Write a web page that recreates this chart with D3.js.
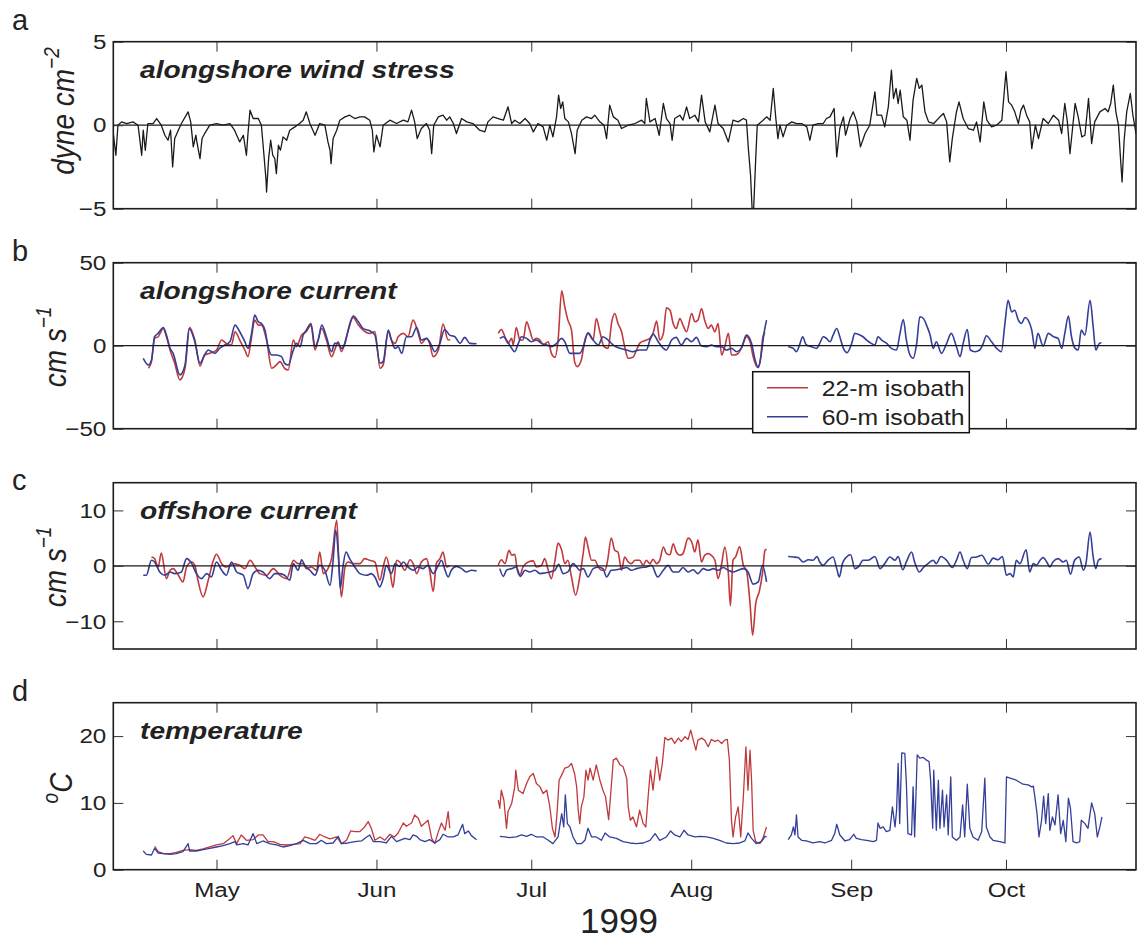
<!DOCTYPE html>
<html>
<head>
<meta charset="utf-8">
<script src="https://cdn.jsdelivr.net/npm/d3@7"></script>
<style>
body { margin: 0; background: #fff; }
svg { display: block; }
text { font-family: "Liberation Sans", Arial, Helvetica, sans-serif; fill: #222; }
</style>
</head>
<body>
<div id="figure"></div>
<script>
// all series: [day of year 1999, value]

// a - alongshore wind stress (dyne cm-2)
const windStress = [[101.0,-0.5],[101.5,-1.8],[101.9,0.0],[102.6,0.2],[103.6,0.1],[104.8,0.2],[105.8,0.0],[106.5,-1.8],[106.8,-0.3],[107.2,-1.5],[107.7,0.1],[108.7,0.1],[109.4,0.4],[110.3,0.0],[111.0,-0.6],[111.6,-0.9],[112.1,-0.3],[112.5,-2.5],[112.9,-0.8],[113.6,-0.3],[114.2,0.1],[115.5,0.8],[116.0,0.2],[116.5,-1.3],[117.0,-0.6],[117.2,-1.0],[117.8,-2.0],[118.2,-0.8],[118.7,-0.5],[119.7,0.0],[121.0,0.1],[122.3,0.0],[123.6,0.1],[124.5,-0.3],[125.5,-1.0],[126.2,-0.6],[126.8,-1.8],[127.1,-0.5],[127.5,0.9],[128.1,0.4],[129.1,0.4],[129.7,0.0],[130.2,-1.8],[130.6,-3.3],[130.7,-4.0],[131.1,-2.0],[131.5,-0.9],[131.9,-1.8],[132.3,-2.0],[132.6,-2.9],[133.0,-1.2],[133.4,-1.5],[133.9,-0.7],[134.6,-0.9],[135.2,-0.3],[136.2,-0.1],[137.1,0.1],[137.8,0.3],[138.4,0.8],[139.1,0.1],[140.1,-0.6],[141.0,0.1],[142.0,0.0],[142.6,-1.0],[143.0,-1.5],[143.2,-2.3],[143.6,-0.8],[144.3,-0.3],[144.9,0.3],[145.9,0.5],[146.8,0.6],[147.8,0.4],[148.8,0.5],[149.7,0.5],[150.7,0.3],[151.2,-0.3],[151.5,-1.6],[152.0,-0.6],[152.7,-1.3],[153.3,0.0],[154.6,0.3],[155.9,0.1],[157.2,0.3],[158.1,0.2],[158.8,0.9],[159.4,0.2],[159.9,-0.8],[160.7,-0.2],[161.7,0.1],[162.3,-0.3],[162.7,-1.7],[163.1,0.0],[164.0,0.5],[164.9,0.6],[165.6,0.3],[166.2,0.5],[166.9,0.1],[167.5,-0.5],[168.5,0.4],[169.5,0.2],[170.7,0.1],[172.0,-0.3],[173.0,-0.4],[173.6,0.2],[174.6,0.5],[175.6,0.4],[176.6,0.3],[177.5,1.1],[178.2,0.1],[178.8,0.3],[179.8,0.1],[180.8,0.4],[181.7,0.1],[182.4,-0.4],[183.3,0.1],[184.3,-0.1],[185.0,-0.9],[185.6,0.0],[186.2,-0.7],[186.9,0.5],[187.3,1.8],[187.7,1.0],[188.1,1.4],[188.5,0.4],[189.2,0.2],[189.8,-0.5],[190.5,-1.7],[190.9,-0.3],[191.8,0.3],[192.7,0.5],[193.7,0.4],[194.3,0.6],[195.3,0.2],[196.1,0.0],[196.6,-0.8],[197.2,1.2],[197.9,0.5],[198.8,0.3],[199.5,-0.2],[200.8,0.0],[202.1,0.1],[203.4,0.3],[204.0,0.1],[204.3,1.6],[205.0,0.2],[206.0,0.4],[206.8,-0.6],[207.6,1.3],[208.2,0.4],[208.9,0.1],[209.3,-0.9],[209.8,0.4],[210.8,0.6],[211.4,0.3],[212.1,1.1],[212.7,0.4],[213.7,0.6],[214.4,0.2],[215.0,1.8],[215.7,0.2],[216.6,-0.4],[217.6,1.2],[218.2,0.1],[219.2,-0.2],[220.2,-1.0],[221.1,0.3],[222.1,0.2],[223.1,0.4],[223.7,0.3],[224.1,-1.5],[224.5,-3.0],[224.8,-5.0],[225.1,-5.0],[225.5,-2.0],[225.8,0.0],[226.6,0.2],[227.6,0.5],[228.3,0.3],[228.9,2.2],[229.4,0.4],[229.8,-0.8],[230.2,0.0],[230.8,-0.7],[231.5,0.0],[232.5,0.2],[233.4,0.1],[234.4,0.1],[235.4,-0.1],[236.0,-0.9],[236.6,0.0],[237.6,0.1],[238.6,0.1],[239.2,0.4],[239.9,0.5],[240.7,1.0],[241.2,-1.9],[241.8,-0.2],[242.5,0.5],[242.9,-0.6],[243.8,0.4],[244.4,0.8],[245.1,0.2],[245.8,-1.3],[246.7,-0.5],[247.6,0.0],[248.6,2.0],[249.0,0.6],[249.9,0.6],[250.5,-0.1],[251.2,1.1],[251.8,3.3],[252.2,1.6],[252.7,2.2],[253.1,1.3],[253.5,2.1],[254.1,0.5],[254.8,0.3],[255.4,-0.9],[256.0,1.5],[256.7,2.8],[257.2,2.2],[257.7,2.4],[258.3,0.8],[259.0,0.2],[260.0,0.1],[261.2,0.5],[261.9,0.7],[262.5,0.2],[263.1,-2.2],[263.6,-0.8],[264.4,0.8],[264.9,1.4],[265.7,0.4],[266.7,-0.2],[267.7,-0.3],[268.3,0.2],[269.0,-1.0],[269.7,1.4],[270.3,0.3],[271.2,-0.1],[272.2,0.0],[273.2,0.3],[274.0,3.2],[274.5,1.4],[275.1,1.2],[275.7,0.8],[276.4,0.1],[276.9,0.9],[277.4,1.2],[278.0,0.6],[278.6,0.2],[279.0,-1.4],[279.7,0.0],[280.3,-0.8],[281.2,0.4],[282.2,0.1],[283.2,0.6],[284.2,0.3],[284.8,-0.5],[285.4,1.3],[285.9,0.2],[286.4,-1.7],[286.9,-0.2],[287.4,1.3],[288.0,0.5],[288.7,-0.7],[289.3,-0.6],[290.0,1.6],[290.6,-1.1],[291.2,0.2],[292.2,0.8],[293.2,1.0],[293.8,0.8],[294.3,1.3],[294.8,2.4],[295.3,0.8],[295.8,0.0],[296.2,-2.0],[296.5,-3.4],[296.9,-0.9],[297.4,0.8],[298.1,1.9],[298.6,0.6],[299.2,-0.5]];

// b - alongshore current (cm s-1)
const along22Seg1 = [[107.8,-13.6],[108.4,-9.6],[109.0,4.4],[109.7,5.4],[110.7,10.4],[111.3,5.4],[112.0,-2.6],[112.9,-10.6],[113.9,-20.6],[114.9,-13.6],[115.8,11.0],[116.8,3.4],[117.8,-12.2],[118.7,-5.6],[119.7,-4.6],[121.0,-2.6],[122.0,3.4],[122.9,1.4],[123.9,0.4],[124.6,8.4],[125.5,3.4],[126.5,-2.6],[127.1,-6.6],[127.8,5.4],[128.4,15.4],[129.1,12.4],[129.7,12.4],[130.7,3.4],[131.7,-13.6],[132.6,-11.6],[133.3,-9.6],[134.2,-13.6],[134.9,-14.6],[135.9,3.4],[136.5,-0.6],[137.5,6.4],[138.4,8.4],[139.3,12.4],[140.1,-2.6],[140.7,3.4],[141.4,10.4],[142.3,3.4],[143.3,-6.6],[143.9,-2.6],[144.6,2.4],[145.2,-3.6],[146.2,5.4],[147.5,17.0],[148.5,12.4],[149.4,9.4],[150.7,7.4],[151.7,8.4],[152.7,-13.6],[153.3,-11.6],[154.3,8.4],[154.9,3.4],[155.6,1.4],[156.2,5.4],[157.2,7.4],[158.1,5.4],[159.1,15.4],[160.1,7.4],[160.7,1.4],[161.7,4.4],[162.3,1.4],[163.0,-6.6],[164.0,-2.6],[164.9,13.0],[165.9,3.4],[166.3,3.8]];
const along22Seg2 = [[175.6,7.4],[176.2,9.8],[176.9,5.4],[177.5,1.4],[178.2,4.4],[178.5,0.4],[179.1,11.0],[179.8,3.4],[180.4,3.4],[181.1,14.4],[181.7,9.4],[182.4,3.4],[183.0,4.4],[183.7,3.4],[184.3,0.4],[185.3,2.4],[185.9,-4.6],[186.6,-7.0],[187.2,3.4],[187.9,33.0],[188.5,23.4],[189.1,15.4],[189.8,9.4],[190.4,-9.6],[190.9,-12.6],[191.7,-8.6],[192.4,3.4],[193.0,7.4],[194.0,3.4],[194.6,16.4],[195.3,8.4],[196.1,-0.6],[196.9,-1.6],[197.6,14.4],[198.2,19.4],[198.8,13.4],[199.5,8.4],[200.1,-0.6],[200.8,-7.6],[201.7,-7.0],[202.4,-2.6],[203.0,1.4],[204.0,3.0],[205.0,4.4],[205.6,7.4],[206.3,14.8],[206.9,3.4],[207.6,7.4],[208.2,22.8],[208.9,21.4],[209.5,13.4],[210.1,10.4],[210.8,16.4],[211.4,12.4],[212.1,8.4],[213.1,19.4],[213.7,14.4],[214.3,15.4],[215.0,22.4],[215.6,15.4],[216.3,10.4],[216.9,12.4],[217.6,8.4],[218.2,13.4],[218.9,-5.6],[219.5,-0.6],[220.2,7.4],[220.8,-5.6],[221.4,-5.6],[222.1,-4.6],[223.1,1.4],[223.7,5.4],[224.4,2.4],[225.0,-6.6],[225.8,-13.0],[226.3,-10.6],[226.9,5.4],[227.3,8.0]];
const along60Seg1 = [[106.8,-7.6],[107.8,-11.6],[108.4,-8.6],[109.0,5.4],[109.7,7.4],[110.7,11.0],[111.3,6.4],[112.0,-1.6],[112.6,-4.6],[113.9,-17.6],[114.9,-11.6],[115.7,10.4],[116.8,2.4],[117.8,-10.6],[118.7,-5.6],[119.4,-2.6],[120.7,-4.6],[121.6,-1.6],[122.6,0.4],[123.6,2.4],[124.6,12.4],[125.5,8.4],[126.5,2.4],[127.1,-1.6],[127.8,7.4],[128.4,18.4],[129.1,14.4],[129.7,13.4],[130.4,9.4],[131.0,-0.6],[131.7,-5.6],[132.6,-5.6],[133.6,-6.6],[134.2,-10.6],[134.9,-11.6],[135.9,-2.6],[136.5,1.4],[137.2,-0.6],[137.8,6.4],[138.4,9.4],[139.3,13.4],[140.1,-0.6],[140.7,3.4],[141.4,12.4],[142.3,5.4],[143.3,-3.6],[143.9,1.4],[144.6,1.4],[145.2,-1.6],[145.9,1.4],[146.5,9.4],[147.5,17.8],[148.5,14.4],[149.4,10.4],[150.7,9.0],[151.7,6.4],[152.7,-10.6],[153.3,-9.6],[154.3,9.4],[154.9,3.4],[155.6,-1.6],[156.2,-0.6],[156.9,-4.6],[157.8,5.4],[158.8,5.4],[159.8,11.0],[160.7,3.4],[161.7,4.4],[162.3,2.4],[163.3,-3.6],[164.3,1.4],[165.2,9.8],[166.2,6.4],[167.2,5.4],[168.2,1.4],[169.1,5.0],[170.1,1.4],[171.4,1.2]];
const along60Seg2 = [[175.9,4.4],[176.6,5.4],[177.2,3.4],[178.2,-1.6],[178.8,-3.6],[179.5,1.4],[180.1,5.4],[181.1,4.4],[182.0,2.4],[183.0,3.4],[184.0,1.4],[185.0,0.4],[185.9,-0.6],[186.9,1.4],[187.9,4.4],[188.5,2.4],[189.5,-4.6],[190.4,-4.6],[191.4,-4.6],[192.1,-0.6],[193.0,7.8],[194.0,3.4],[195.0,0.4],[195.9,5.4],[196.9,3.4],[197.9,0.4],[199.2,-1.6],[200.5,-2.6],[201.7,-3.6],[203.0,-2.6],[204.3,-2.6],[205.0,3.4],[205.6,7.0],[206.6,2.4],[207.6,-1.6],[208.2,-2.6],[209.2,3.4],[210.1,5.0],[211.1,0.4],[212.1,4.4],[213.1,2.4],[214.0,5.0],[215.0,-0.2],[216.0,-0.6],[216.9,0.4],[217.9,-0.6],[218.9,-0.6],[219.8,-2.6],[220.8,-1.6],[221.8,-3.6],[222.7,-1.6],[223.7,6.4],[224.7,1.4],[225.3,-7.6],[226.0,-13.2],[226.6,-4.6],[227.1,7.4],[227.6,15.4]];
const along60Seg3 = [[231.8,-0.6],[232.8,-1.6],[233.4,-3.6],[234.1,1.4],[234.6,5.4],[235.3,0.4],[236.3,-0.6],[237.3,-1.6],[237.9,1.4],[238.6,5.4],[239.2,4.4],[239.9,2.4],[240.5,6.4],[241.2,10.4],[241.8,5.4],[242.5,-1.6],[243.2,-4.2],[244.1,1.4],[244.7,7.4],[245.7,6.4],[246.3,5.4],[247.0,3.4],[247.9,1.4],[248.6,0.4],[249.2,5.4],[249.9,3.4],[250.9,1.4],[251.8,-1.6],[252.8,-2.6],[253.4,6.4],[254.1,15.8],[254.7,3.4],[255.4,-5.6],[256.0,-7.6],[256.7,1.4],[257.3,17.4],[258.0,16.4],[258.6,12.4],[259.3,6.4],[259.9,-1.6],[260.5,2.4],[261.5,-4.6],[262.5,1.4],[263.4,7.4],[264.4,-0.6],[265.1,-6.6],[265.7,1.4],[266.5,9.8],[267.1,-2.6],[268.0,-3.6],[268.9,-2.6],[269.6,1.4],[270.2,6.0],[271.2,2.4],[272.2,-1.6],[273.1,-3.6],[273.8,13.4],[274.4,27.4],[275.1,20.4],[275.7,21.4],[276.4,15.4],[277.0,13.4],[277.7,17.0],[278.3,15.4],[279.0,9.4],[279.6,-1.6],[280.2,7.4],[281.2,-0.2],[282.2,7.4],[283.2,5.4],[284.1,4.4],[284.8,-1.6],[285.4,7.4],[286.1,17.8],[286.7,5.4],[287.4,-1.6],[288.0,-2.6],[288.6,9.4],[289.3,6.4],[290.3,27.4],[290.9,11.4],[291.4,-2.6],[292.1,1.4],[292.5,1.8]];

// c - offshore current (cm s-1)
const off22Seg1 = [[108.4,1.6],[109.0,1.3],[109.7,-0.2],[110.3,2.3],[111.3,-2.3],[112.0,-0.8],[112.6,-0.5],[113.6,-1.7],[114.5,-2.9],[115.2,-0.2],[116.2,0.7],[116.8,0.1],[117.4,-2.6],[118.4,-5.6],[119.4,-2.6],[120.4,1.0],[121.0,2.1],[122.0,0.4],[122.9,-0.2],[124.2,0.4],[125.5,0.1],[126.5,-0.5],[127.5,1.0],[128.4,-0.1],[129.4,-1.4],[130.7,-1.7],[132.0,-0.5],[133.3,-1.7],[134.6,-2.3],[135.5,0.1],[135.9,1.0],[136.8,0.4],[137.8,0.4],[138.4,-0.5],[139.4,-0.2],[140.4,-0.8],[141.0,2.5],[141.7,-1.4],[142.6,-0.5],[143.3,1.3],[144.3,8.2],[144.7,1.0],[145.2,-5.6],[145.9,-0.2],[146.5,0.7],[147.5,0.4],[148.8,0.4],[149.7,1.3],[150.7,1.0],[151.7,0.7],[152.65,-2.6],[153.3,-0.2],[153.9,1.6],[154.6,-0.8],[155.2,-3.9],[155.9,1.0],[156.5,0.7],[157.5,-0.8],[158.5,1.1],[159.1,0.4],[159.8,-1.4],[160.7,0.7],[161.7,1.3],[162.3,-0.8],[163.0,-4.6],[163.6,0.4],[164.3,1.3],[164.9,2.5],[165.6,-0.2],[166.2,0.1]];
const off22Seg2 = [[175.6,0.1],[176.2,1.1],[176.9,0.4],[177.7,2.8],[178.2,1.9],[178.8,2.1],[179.3,-0.8],[179.8,-1.7],[180.4,-0.2],[181.4,0.7],[182.4,0.9],[183.0,-0.2],[184.0,0.1],[184.6,1.3],[185.3,-0.8],[185.9,-2.3],[186.6,1.0],[187.2,4.1],[187.9,2.8],[188.5,0.4],[189.1,1.0],[189.8,-2.0],[190.6,-5.3],[191.4,-2.0],[192.1,2.5],[192.5,5.2],[193.0,3.4],[193.7,1.0],[194.3,1.0],[195.0,-0.2],[195.6,-0.8],[196.3,-0.8],[196.8,1.0],[197.5,5.0],[198.2,2.8],[198.8,2.5],[199.5,-0.8],[200.1,1.6],[200.8,0.7],[201.4,0.4],[202.1,1.0],[203.0,1.0],[203.7,0.1],[204.3,1.0],[205.0,0.4],[205.6,1.2],[206.3,0.4],[206.9,1.0],[207.6,3.4],[208.2,2.2],[208.9,2.0],[209.5,4.0],[210.1,2.5],[210.8,1.9],[211.4,2.2],[212.4,5.0],[213.1,4.3],[213.7,2.5],[214.3,4.7],[215.0,0.7],[215.6,1.9],[216.3,2.2],[216.9,1.9],[217.6,1.0],[218.2,-2.3],[218.9,0.4],[219.5,3.4],[220.2,-1.4],[220.6,-7.2],[221.1,1.0],[221.6,1.6],[222.4,3.5],[223.1,0.1],[223.7,-0.8],[224.4,-6.8],[224.9,-12.5],[225.5,-6.8],[226.2,-4.6],[226.8,-1.4],[227.3,2.8],[227.6,3.0]];
const off60Seg1 = [[106.8,-1.7],[107.4,-1.7],[108.4,1.0],[109.0,0.7],[110.0,-1.1],[111.0,-1.7],[112.0,-1.1],[112.9,-1.4],[114.2,-1.1],[115.2,1.3],[116.2,0.4],[117.1,-1.4],[118.1,-2.3],[119.1,-1.4],[120.0,-2.0],[121.0,0.7],[122.0,-0.8],[122.9,-1.7],[123.9,0.7],[124.9,-1.1],[126.2,-1.7],[127.1,-4.1],[128.1,-1.4],[129.1,-0.8],[130.0,-1.1],[131.3,-2.3],[132.3,-1.4],[133.3,-1.4],[134.2,-1.7],[135.2,-2.6],[135.9,0.4],[136.8,-0.8],[137.5,1.1],[138.1,0.1],[139.1,-0.8],[140.1,-1.7],[141.0,0.1],[142.0,-0.8],[143.0,-3.5],[143.6,1.0],[144.1,6.4],[144.6,2.2],[145.0,-4.1],[145.5,-0.2],[146.1,2.5],[146.8,1.3],[147.8,-0.2],[148.8,-1.4],[150.1,-1.7],[151.0,-1.4],[151.7,-2.0],[152.65,-3.8],[153.3,-2.3],[153.9,0.1],[154.9,-1.4],[155.6,0.4],[156.5,-0.1],[157.2,0.7],[158.1,-0.2],[159.1,-0.8],[160.1,-0.2],[161.0,-0.5],[162.0,0.1],[163.0,-1.4],[164.0,0.1],[164.6,1.0],[165.3,-0.8],[165.9,-2.0],[166.5,-0.8],[167.5,-0.1],[168.5,-0.5],[169.4,-1.1],[170.4,-0.8],[171.4,-0.9]];
const off60Seg2 = [[175.9,-0.5],[176.6,-1.9],[177.2,-0.8],[178.2,-0.5],[179.1,-0.2],[179.9,-1.9],[180.8,-0.8],[181.7,-1.1],[182.7,-0.8],[183.7,-1.4],[184.6,-1.3],[185.6,-1.1],[186.6,-0.8],[187.3,0.3],[188.2,-1.4],[189.1,-1.1],[190.1,0.4],[190.8,-0.2],[191.4,-0.8],[192.1,-0.5],[193.0,-2.0],[194.0,-0.5],[195.0,-0.2],[195.9,-0.5],[196.6,-2.0],[197.5,-0.8],[198.5,-0.7],[199.5,-0.5],[200.5,-0.3],[201.4,-0.8],[202.4,-0.5],[203.4,-0.3],[204.3,-0.2],[205.3,0.1],[206.5,-2.0],[207.6,-0.8],[208.5,0.1],[209.5,-1.1],[210.5,-1.1],[211.4,-0.3],[212.4,-1.1],[213.4,-0.7],[214.3,-1.4],[215.3,-0.5],[216.3,-0.8],[217.3,-0.5],[218.2,-0.8],[219.2,-0.3],[220.2,-0.8],[221.1,-1.1],[222.1,-0.8],[223.1,-0.5],[224.0,-1.1],[225.0,-3.3],[226.0,-2.9],[226.8,0.1],[227.6,-2.9]];
const off60Seg3 = [[231.8,1.7],[232.8,1.6],[233.7,1.5],[234.7,0.7],[235.7,1.1],[236.6,1.0],[237.4,1.7],[237.9,0.7],[238.6,0.1],[239.5,1.0],[240.5,1.6],[241.2,-0.5],[241.7,-2.0],[242.3,0.4],[243.1,1.6],[243.9,2.0],[244.7,-0.5],[245.4,-0.2],[246.3,1.0],[247.3,1.0],[248.6,1.7],[249.6,-0.5],[250.5,0.4],[251.5,1.6],[252.5,1.0],[253.1,1.7],[254.0,-0.7],[254.7,0.7],[255.7,2.5],[256.3,0.7],[257.2,-1.1],[258.0,-0.3],[258.9,0.4],[259.9,1.0],[260.5,0.4],[261.4,1.7],[262.5,1.0],[263.6,-0.3],[264.4,1.0],[265.1,2.5],[265.7,1.0],[266.5,-0.5],[267.3,1.5],[268.3,1.6],[269.3,1.9],[270.6,0.3],[271.5,1.4],[272.5,1.1],[273.3,1.7],[274.1,-1.7],[274.8,-1.4],[275.4,-2.0],[276.0,1.0],[276.7,0.4],[277.9,2.9],[278.6,-1.1],[279.3,0.4],[279.9,0.1],[280.6,1.0],[281.2,1.5],[281.9,0.7],[282.5,-0.2],[283.1,0.7],[284.1,1.3],[285.1,0.7],[285.7,1.0],[286.5,-1.5],[287.3,1.0],[288.2,1.6],[289.0,-0.8],[289.5,0.4],[290.3,6.1],[290.9,1.6],[291.4,-0.5],[291.9,1.0],[292.5,1.3]];

// d - temperature (deg C)
const temp22Seg1 = [[109.0,3.5],[109.7,2.7],[110.7,2.4],[112.0,2.4],[113.2,2.6],[114.5,2.9],[115.8,3.0],[117.1,2.9],[118.4,3.1],[119.7,3.4],[121.0,3.7],[122.3,3.9],[123.3,4.5],[124.2,5.1],[124.9,3.9],[125.8,5.2],[126.8,4.4],[128.1,4.5],[129.1,5.2],[130.0,5.2],[131.0,4.2],[132.0,4.2],[133.3,3.8],[134.6,3.7],[135.9,3.8],[137.2,3.9],[138.1,4.9],[139.1,4.7],[140.1,4.4],[141.0,5.3],[142.0,4.9],[143.0,4.6],[144.3,4.9],[145.2,3.9],[146.2,4.4],[147.0,5.8],[147.8,5.7],[148.8,5.7],[149.7,6.4],[150.4,7.2],[151.0,6.2],[151.7,4.4],[152.7,4.9],[153.6,4.4],[154.6,5.3],[155.5,4.9],[156.2,5.5],[157.2,7.0],[157.8,6.5],[158.8,7.0],[159.4,8.2],[160.1,7.7],[160.7,6.5],[161.4,7.0],[162.0,7.4],[162.7,4.7],[163.3,3.9],[164.0,5.7],[164.6,7.0],[165.3,5.9],[165.9,8.7],[166.2,6.2]];
const temp22Seg2 = [[175.6,10.4],[175.9,9.2],[176.2,11.9],[176.7,10.4],[177.2,6.2],[177.5,8.7],[178.2,9.9],[178.8,12.4],[179.0,14.9],[179.5,11.9],[180.4,11.4],[181.1,12.9],[181.7,13.9],[182.4,14.4],[183.0,12.9],[183.7,12.4],[184.3,11.4],[185.0,11.9],[185.6,9.4],[186.1,6.2],[186.6,4.9],[187.0,8.5],[187.4,13.4],[187.9,14.2],[188.5,15.2],[189.2,15.4],[189.8,15.9],[190.4,14.4],[190.8,12.4],[191.1,8.9],[191.4,6.9],[191.7,9.4],[192.2,10.9],[192.6,14.9],[193.0,13.4],[193.4,15.2],[194.0,13.4],[194.6,15.7],[195.3,13.4],[195.9,11.9],[196.4,10.9],[197.0,7.5],[197.4,11.4],[197.9,16.4],[198.5,16.7],[199.2,15.7],[199.8,15.4],[200.5,13.7],[200.8,9.4],[201.2,7.4],[201.7,7.9],[202.4,6.4],[203.0,8.9],[203.7,6.9],[204.2,6.4],[204.7,11.4],[205.1,14.9],[205.6,11.9],[206.3,16.9],[206.9,13.4],[207.4,15.9],[207.9,19.8],[208.5,19.4],[209.2,19.7],[209.8,18.9],[210.5,19.7],[211.1,19.2],[211.8,19.9],[212.4,19.5],[212.9,20.9],[213.4,19.4],[213.9,17.9],[214.3,19.4],[215.0,19.7],[215.6,19.4],[216.3,18.4],[216.9,19.5],[217.6,19.2],[218.2,19.4],[218.9,18.9],[219.5,19.4],[220.0,19.5],[220.4,16.4],[220.8,7.4],[221.1,4.9],[221.6,7.9],[222.1,9.4],[222.6,4.9],[223.1,10.9],[223.6,18.4],[224.0,11.9],[224.4,17.9],[224.7,13.4],[225.0,5.9],[225.5,4.2],[226.3,3.9],[226.9,4.7],[227.6,6.4]];
const temp60Seg1 = [[106.8,2.8],[107.4,2.3],[108.4,2.2],[109.0,3.2],[109.7,2.5],[110.7,2.4],[112.0,2.3],[113.2,2.4],[114.5,2.7],[115.5,3.9],[115.8,2.8],[117.1,2.8],[118.4,3.0],[119.7,3.2],[121.0,3.4],[122.3,3.6],[123.6,3.9],[124.6,4.2],[124.9,3.7],[126.2,3.9],[127.1,3.7],[128.1,5.4],[128.8,3.9],[130.0,4.3],[131.3,3.9],[132.6,3.7],[133.9,3.4],[135.2,3.6],[136.5,3.9],[137.8,4.4],[139.1,3.9],[140.4,3.9],[141.3,4.4],[142.3,3.9],[143.6,4.0],[144.6,5.0],[145.2,3.9],[146.5,4.0],[147.8,4.2],[149.1,4.3],[150.1,4.9],[150.7,5.2],[151.4,4.2],[152.7,4.2],[153.9,4.0],[154.9,5.0],[155.9,4.2],[157.5,4.7],[158.5,4.5],[159.1,5.2],[159.8,5.0],[160.4,4.5],[161.4,4.2],[162.3,4.5],[163.3,4.0],[164.3,4.5],[164.9,5.3],[165.9,4.9],[166.9,4.9],[167.8,5.2],[168.7,6.8],[169.1,5.4],[169.8,5.8],[170.4,5.1],[171.4,4.5]];
const temp60Seg2 = [[175.9,5.0],[176.9,4.9],[177.8,4.8],[179.1,4.9],[180.1,5.2],[181.1,5.0],[182.0,5.3],[183.0,4.9],[184.3,4.9],[185.3,4.4],[186.2,3.9],[187.2,4.9],[187.9,8.4],[188.3,6.4],[188.6,11.2],[189.0,6.9],[189.5,6.4],[190.1,4.9],[190.8,3.9],[191.7,3.9],[192.4,4.4],[193.0,6.2],[193.7,4.9],[194.6,4.9],[195.6,4.4],[196.3,5.5],[197.2,4.9],[198.5,4.7],[199.8,4.2],[201.1,4.0],[202.4,3.9],[203.7,4.0],[205.0,4.4],[206.0,5.4],[206.9,4.4],[208.2,4.9],[209.0,5.8],[209.8,5.2],[210.8,4.9],[211.6,5.9],[212.4,5.2],[213.7,4.9],[214.7,5.0],[216.0,4.9],[217.3,4.7],[218.5,4.4],[219.8,4.0],[221.1,3.9],[222.4,4.0],[223.4,4.3],[224.0,5.5],[224.7,4.7],[225.6,3.9],[226.6,4.2],[227.3,5.0],[227.6,4.9]];
const temp60Seg3 = [[231.8,4.5],[232.4,5.2],[232.8,6.4],[233.1,5.2],[233.4,8.2],[233.7,4.9],[234.4,4.4],[235.3,4.3],[236.6,4.0],[237.9,4.2],[238.9,4.0],[240.2,4.4],[240.8,5.4],[241.2,6.8],[241.8,5.2],[242.8,4.3],[243.7,4.5],[244.5,5.3],[245.0,4.7],[246.0,4.5],[247.0,4.4],[248.3,4.2],[248.9,4.4],[249.2,7.0],[249.6,6.2],[250.2,6.4],[250.8,5.7],[251.5,5.9],[252.0,9.4],[252.5,6.4],[252.8,8.9],[253.1,15.9],[253.4,6.9],[253.8,17.5],[254.4,17.4],[254.7,12.9],[255.0,5.4],[255.7,5.2],[256.0,12.4],[256.3,4.9],[256.8,17.2],[257.3,16.7],[258.0,16.8],[258.6,16.4],[259.1,16.2],[259.4,13.4],[259.8,6.2],[260.0,14.9],[260.5,5.9],[260.9,13.4],[261.2,6.2],[261.7,11.9],[262.0,6.4],[262.5,11.2],[262.8,5.2],[263.3,13.9],[263.6,4.9],[264.4,4.4],[265.1,4.9],[265.6,9.7],[266.0,4.9],[266.5,12.8],[267.0,6.2],[267.6,4.9],[268.6,4.4],[269.3,5.7],[269.9,13.7],[270.2,6.4],[270.9,4.9],[271.5,4.4],[272.8,4.2],[273.8,4.0],[274.1,13.9],[274.8,13.7],[276.0,13.4],[277.3,12.8],[278.3,12.7],[279.0,12.4],[279.3,12.5],[279.6,10.9],[280.0,8.5],[280.4,4.9],[280.9,7.4],[281.3,11.0],[281.7,6.9],[282.2,11.4],[282.5,5.9],[283.0,7.9],[283.5,6.7],[284.1,11.2],[284.6,5.4],[285.1,7.4],[285.6,4.2],[286.1,10.7],[286.5,9.2],[287.0,4.2],[287.7,4.0],[288.3,4.2],[288.6,7.4],[289.3,6.9],[289.9,6.2],[290.6,10.0],[291.2,8.4],[291.7,4.9],[292.2,6.4],[292.6,7.9]];

const legendLabels = ["22-m isobath", "60-m isobath"];

// ---------------------------------------------------------------

const W = 1138, H = 942;
const plotLeft = 113.3, plotRight = 1136;
const sx = 1.15;              // original figure is stretched horizontally
const red = "#c0393c", blue = "#333f98", black = "#1a1a1a";
const frameColor = "#1c1c1c";

function dayToDate(d) {
    return new Date(Date.UTC(1999, 0, 1) + (d - 1) * 864e5);
}

const x = d3.scaleUtc()
    .domain([dayToDate(101), dayToDate(299.2)])
    .range([plotLeft, plotRight]);

const svg = d3.select("#figure").append("svg")
    .attr("width", W)
    .attr("height", H);

const panels = [
    { letter: "a", letterY: 30, top: 41.7, bottom: 208.7, domain: [-5, 5], ticks: [-5, 0, 5], zero: true,
      title: "alongshore wind stress", unit: ["dyne cm", "\u22122"], unitX: 74, unitY: 111, curve: d3.curveLinear,
      series: [{ segs: [windStress], color: black, width: 1.3 }] },
    { letter: "b", letterY: 261, top: 262.7, bottom: 428.7, domain: [-50, 50], ticks: [-50, 0, 50], zero: true,
      title: "alongshore current", unit: ["cm s", "\u22121"], unitX: 66, unitY: 347, curve: d3.curveMonotoneX,
      series: [{ segs: [along22Seg1, along22Seg2], color: red, width: 1.6 },
               { segs: [along60Seg1, along60Seg2, along60Seg3], color: blue, width: 1.6 }] },
    { letter: "c", letterY: 490, top: 482.7, bottom: 649, domain: [-15, 15], ticks: [-10, 0, 10], zero: true,
      title: "offshore current", unit: ["cm s", "\u22121"], unitX: 66, unitY: 567, curve: d3.curveMonotoneX,
      series: [{ segs: [off22Seg1, off22Seg2], color: red, width: 1.6 },
               { segs: [off60Seg1, off60Seg2, off60Seg3], color: blue, width: 1.6 }] },
    { letter: "d", letterY: 701, top: 702.7, bottom: 869.7, domain: [0, 25], ticks: [0, 10, 20], zero: false,
      title: "temperature", unit: null, unitX: 72, unitY: 788, curve: d3.curveLinear,
      series: [{ segs: [temp22Seg1, temp22Seg2], color: red, width: 1.3 },
               { segs: [temp60Seg1, temp60Seg2, temp60Seg3], color: blue, width: 1.3 }] }
];

panels.forEach((p, i) => drawPanel(p, i === panels.length - 1));

// stretch every axis label the same way as the original figure
function stretchLabels(sel) {
    sel.selectAll(".tick text").each(function() {
        const t = d3.select(this);
        const tx = +t.attr("x") || 0, ty = +t.attr("y") || 0;
        t.attr("x", 0).attr("y", 0)
            .attr("transform", `translate(${tx},${ty}) scale(${sx},1)`);
    });
}

function drawPanel(p, withMonths) {
    const y = d3.scaleLinear().domain(p.domain).range([p.bottom, p.top]);
    const g = svg.append("g");

    g.append("clipPath").attr("id", "clip-" + p.letter)
        .append("rect")
        .attr("x", plotLeft).attr("y", p.top)
        .attr("width", plotRight - plotLeft).attr("height", p.bottom - p.top);

    const plot = g.append("g").attr("clip-path", `url(#clip-${p.letter})`);

    const line = d3.line()
        .x(d => x(dayToDate(d[0])))
        .y(d => y(d[1]))
        .curve(p.curve);

    p.series.forEach(s => {
        s.segs.forEach(seg => {
            plot.append("path")
                .datum(seg)
                .attr("d", line)
                .attr("fill", "none")
                .attr("stroke", s.color)
                .attr("stroke-width", s.width)
                .attr("stroke-linejoin", "round");
        });
    });

    // zero line
    if (p.zero) {
        g.append("line")
            .attr("x1", plotLeft).attr("x2", plotRight)
            .attr("y1", y(0)).attr("y2", y(0))
            .attr("stroke", black)
            .attr("stroke-width", 1.3);
    }

    // axes, ticks pointing inwards
    const yLeft = g.append("g")
        .attr("transform", `translate(${plotLeft},0)`)
        .attr("color", "#333")
        .call(d3.axisLeft(y).tickValues(p.ticks).tickSizeInner(-10).tickSizeOuter(0).tickPadding(7)
            .tickFormat(d => d < 0 ? "\u2212" + Math.abs(d) : d));
    yLeft.select(".domain").remove();
    yLeft.selectAll(".tick text").style("font-size", "21px").attr("fill", "#222");
    stretchLabels(yLeft);

    const yRight = g.append("g")
        .attr("transform", `translate(${plotRight},0)`)
        .attr("color", "#333")
        .call(d3.axisRight(y).tickValues(p.ticks).tickSizeInner(-10).tickSizeOuter(0).tickFormat(""));
    yRight.select(".domain").remove();

    const xTop = g.append("g")
        .attr("transform", `translate(0,${p.top})`)
        .attr("color", "#333")
        .call(d3.axisTop(x).ticks(d3.utcMonth.every(1)).tickSizeInner(-10).tickSizeOuter(0).tickFormat(""));
    xTop.select(".domain").remove();

    const xBottom = g.append("g")
        .attr("transform", `translate(0,${p.bottom})`)
        .attr("color", "#333")
        .call(d3.axisBottom(x).ticks(d3.utcMonth.every(1)).tickSizeInner(-10).tickSizeOuter(0)
            .tickFormat(withMonths ? d3.utcFormat("%b") : ""));
    xBottom.select(".domain").remove();
    if (withMonths) {
        xBottom.selectAll(".tick text")
            .attr("y", 27).attr("dy", null)
            .style("font-size", "21px").attr("fill", "#222");
        stretchLabels(xBottom);
    }

    // frame
    g.append("rect")
        .attr("x", plotLeft).attr("y", p.top)
        .attr("width", plotRight - plotLeft).attr("height", p.bottom - p.top)
        .attr("fill", "none")
        .attr("stroke", frameColor)
        .attr("stroke-width", 1.6);

    // title inside the panel
    g.append("text")
        .attr("transform", `translate(140,${p.top + 36.6}) scale(${sx},1)`)
        .style("font-size", "24.5px")
        .style("font-weight", "bold")
        .style("font-style", "italic")
        .attr("fill", "#1a1a1a")
        .text(p.title);

    // panel letter
    g.append("text")
        .attr("x", 12).attr("y", p.letterY)
        .style("font-size", "29px")
        .attr("fill", "#222")
        .text(p.letter);

    // y label, rotated
    const ylab = g.append("text")
        .attr("transform", `translate(${p.unitX},${p.unitY}) scale(${sx},1) rotate(-90)`)
        .attr("text-anchor", "middle")
        .style("font-size", "28px")
        .style("font-style", "italic")
        .attr("fill", "#222");
    if (p.unit) {
        ylab.append("tspan").text(p.unit[0]);
        ylab.append("tspan").attr("dy", -13).style("font-size", "19px").text(p.unit[1]);
    } else {
        ylab.append("tspan").attr("dy", -12).style("font-size", "19px").text("o");
        ylab.append("tspan").attr("dy", 12).text("C");
    }

    if (p.letter === "b") drawLegend(g);
}

function drawLegend(g) {
    const lg = g.append("g");
    lg.append("rect")
        .attr("x", 752.7).attr("y", 371.7)
        .attr("width", 216.6).attr("height", 61)
        .attr("fill", "#fff")
        .attr("stroke", "#111")
        .attr("stroke-width", 1.5);
    const colors = [red, blue];
    legendLabels.forEach((lab, i) => {
        const ly = 387.7 + i * 29;
        lg.append("line")
            .attr("x1", 767).attr("x2", 808)
            .attr("y1", ly).attr("y2", ly)
            .attr("stroke", colors[i])
            .attr("stroke-width", 1.6);
        lg.append("text")
            .attr("transform", `translate(821.7,${ly + 8}) scale(${sx},1)`)
            .style("font-size", "21.5px")
            .attr("fill", "#222")
            .text(lab);
    });
}

// year label
svg.append("text")
    .attr("x", 619).attr("y", 933)
    .attr("text-anchor", "middle")
    .style("font-size", "35px")
    .attr("fill", "#222")
    .text("1999");
</script>
</body>
</html>
